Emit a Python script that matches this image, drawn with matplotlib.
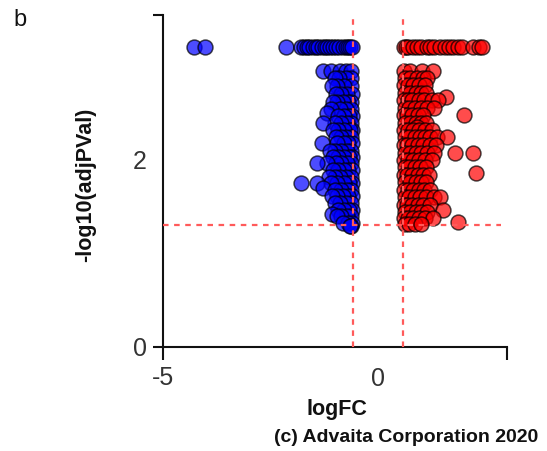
import matplotlib
matplotlib.use("Agg")
import matplotlib.pyplot as plt

plt.rcParams['font.family'] = ['Liberation Sans', 'DejaVu Sans']

# ---- data: (-log10 adjPVal, [logFC values]) rows ----
blue_rows = [
    (3.21, [-4.28, -4.02, -2.13, -1.80, -1.72, -1.66, -1.60, -1.52, -1.45, -1.40, -1.30,
            -1.24, -1.18, -1.12, -1.05, -0.98, -0.90, -0.82, -0.75, -0.70, -0.65, -0.61]),
    (2.95, [-1.28, -1.10, -0.89, -0.75, -0.63]),
    (2.88, [-0.62, -0.75, -0.90, -1.00]),
    (2.79, [-0.63, -0.78, -0.95, -1.07]),
    (2.70, [-0.61, -0.72, -0.85, -0.98]),
    (2.62, [-0.62, -0.70, -0.82, -0.95, -1.05]),
    (2.55, [-0.63, -0.75, -0.88, -1.10]),
    (2.50, [-1.19]),
    (2.47, [-0.61, -0.68, -0.80, -0.93]),
    (2.40, [-0.62, -0.72, -0.85, -1.00, -1.28]),
    (2.32, [-0.60, -0.66, -0.78, -0.92, -1.05]),
    (2.25, [-0.63, -0.74, -0.86, -0.98]),
    (2.18, [-0.61, -0.70, -0.80, -0.95, -1.31]),
    (2.10, [-0.62, -0.73, -0.85, -1.00, -1.12]),
    (2.03, [-0.60, -0.68, -0.78, -0.92, -1.05]),
    (1.97, [-0.63, -0.72, -0.85, -0.98, -1.18, -1.43]),
    (1.89, [-0.61, -0.70, -0.80, -0.92, -1.05]),
    (1.82, [-0.62, -0.75, -0.88, -1.00, -1.15]),
    (1.75, [-0.60, -0.68, -0.80, -0.95, -1.10, -1.43, -1.78]),
    (1.70, [-1.28]),
    (1.68, [-0.63, -0.72, -0.85, -1.00]),
    (1.61, [-0.61, -0.70, -0.82, -0.95, -1.08]),
    (1.54, [-0.62, -0.74, -0.88, -1.00]),
    (1.47, [-0.60, -0.68, -0.80, -0.93]),
    (1.42, [-1.07]),
    (1.40, [-0.63, -0.72, -0.85, -0.96]),
    (1.33, [-0.61, -0.70, -0.82]),
    (1.29, [-0.62, -0.66]),
]

red_rows = [
    (3.21, [0.61, 0.65, 0.70, 0.82, 0.90, 1.00, 1.14, 1.20, 1.30, 1.45, 1.55, 1.65,
            1.75, 1.85, 1.96, 2.22, 2.34, 2.43]),
    (2.95, [0.61, 0.75, 1.03, 1.29]),
    (2.88, [0.62, 0.75, 0.90, 1.05, 1.15]),
    (2.80, [0.61, 0.70, 0.82, 0.95, 1.10]),
    (2.72, [0.63, 0.75, 0.88, 1.00, 1.12]),
    (2.67, [1.57]),
    (2.64, [0.61, 0.70, 0.80, 0.95, 1.08, 1.25, 1.40]),
    (2.56, [0.62, 0.72, 0.85, 1.00, 1.15, 1.30]),
    (2.48, [0.60, 0.68, 0.80, 0.92, 1.05, 1.99]),
    (2.40, [0.63, 0.75, 0.88, 1.00, 1.12]),
    (2.35, [0.91]),
    (2.32, [0.61, 0.70, 0.82, 0.95, 1.10, 1.25]),
    (2.25, [0.62, 0.72, 0.85, 0.98, 1.10, 1.22, 1.38, 1.61]),
    (2.16, [0.60, 0.68, 0.80, 0.92, 1.05, 1.20, 1.35]),
    (2.07, [0.63, 0.75, 0.88, 1.00, 1.15, 1.30, 1.80, 2.20]),
    (2.00, [0.61, 0.70, 0.82, 0.95, 1.10, 1.25]),
    (1.92, [0.62, 0.72, 0.85, 0.98, 1.12]),
    (1.86, [2.27]),
    (1.84, [0.60, 0.68, 0.80, 0.92, 1.05, 1.18]),
    (1.76, [0.63, 0.75, 0.88, 1.00, 1.12]),
    (1.68, [0.61, 0.70, 0.82, 0.95, 1.08, 1.20]),
    (1.60, [0.62, 0.72, 0.85, 0.98, 1.12, 1.30, 1.45]),
    (1.52, [0.60, 0.68, 0.80, 0.92, 1.05, 1.20]),
    (1.47, [1.52]),
    (1.44, [0.63, 0.75, 0.88, 1.00, 1.15]),
    (1.38, [0.61, 0.70, 0.82, 0.95, 1.10, 1.29]),
    (1.34, [1.85]),
    (1.31, [0.62, 0.72, 0.85, 1.00]),
]

blue_x = [x for y, xs in blue_rows for x in xs]
blue_y = [y for y, xs in blue_rows for x in xs]
red_x = [x for y, xs in red_rows for x in xs]
red_y = [y for y, xs in red_rows for x in xs]

fc_threshold = 0.585
p_threshold = 1.3

x_tick_labels = ['-5', '0']
y_tick_labels = ['0', '2']

# ---- figure ----
fig = plt.figure(figsize=(5.47, 4.51), dpi=100)
ax = fig.add_axes([163/547, 104/451, 344/547, 332/451])

ax.set_xlim(-5, 3)
ax.set_ylim(0, 3.55)

ax.scatter(blue_x, blue_y, s=115, c='#0000ff', alpha=0.7, edgecolors='black',
           linewidths=1.1, zorder=2, clip_on=False)
ax.scatter(red_x, red_y, s=115, c='#ff0000', alpha=0.7, edgecolors='black',
           linewidths=1.1, zorder=2, clip_on=False)

dash_kw = dict(color='#ff5a5a', linewidth=1.6, linestyles=(0, (2.5, 2.5)), zorder=3)
ax.vlines([-fc_threshold, fc_threshold], 0, 3.54, **dash_kw)
ax.hlines(p_threshold, -5, 2.85, **dash_kw)

for s in ['top', 'right']:
    ax.spines[s].set_visible(False)
for s in ['left', 'bottom']:
    ax.spines[s].set_linewidth(1.5)
    ax.spines[s].set_color('#111111')

# major ticks = end caps, minor ticks = labels without marks
ax.set_xticks([-5, 3])
ax.set_xticklabels([x_tick_labels[0], ''])
ax.set_xticks([0], minor=True)
ax.set_xticklabels([x_tick_labels[1]], minor=True)
ax.set_yticks([0, 3.55])
ax.set_yticklabels([y_tick_labels[0], ''])
ax.set_yticks([2], minor=True)
ax.set_yticklabels([y_tick_labels[1]], minor=True)

ax.tick_params(axis='x', which='major', length=9, width=1.5, pad=5,
               labelsize=18, labelcolor='#333333', color='#111111')
ax.tick_params(axis='x', which='minor', length=0, pad=14.5,
               labelsize=18, labelcolor='#333333')
ax.tick_params(axis='y', which='major', length=7.2, width=1.5, pad=4.3,
               labelsize=18, labelcolor='#333333', color='#111111')
ax.tick_params(axis='y', which='minor', length=0, pad=11.5,
               labelsize=18, labelcolor='#333333')

fig.text(337/547, 1 - 410/451, 'logFC', ha='center', va='center',
         fontsize=15.5, fontweight='bold', color='#111111')
fig.text(86/547, 1 - 185/451, '-log10(adjPVal)', ha='center', va='center',
         rotation=90, fontsize=15.5, fontweight='bold', color='#111111')
fig.text(538/547, 1 - 438/451, '(c) Advaita Corporation 2020', ha='right',
         va='center', fontsize=14, fontweight='bold', color='#111111')
fig.text(13/547, 1 - 20/451, 'b', ha='left', va='center', fontsize=17,
         color='#111111')

fig.savefig('out.png', dpi=100)
